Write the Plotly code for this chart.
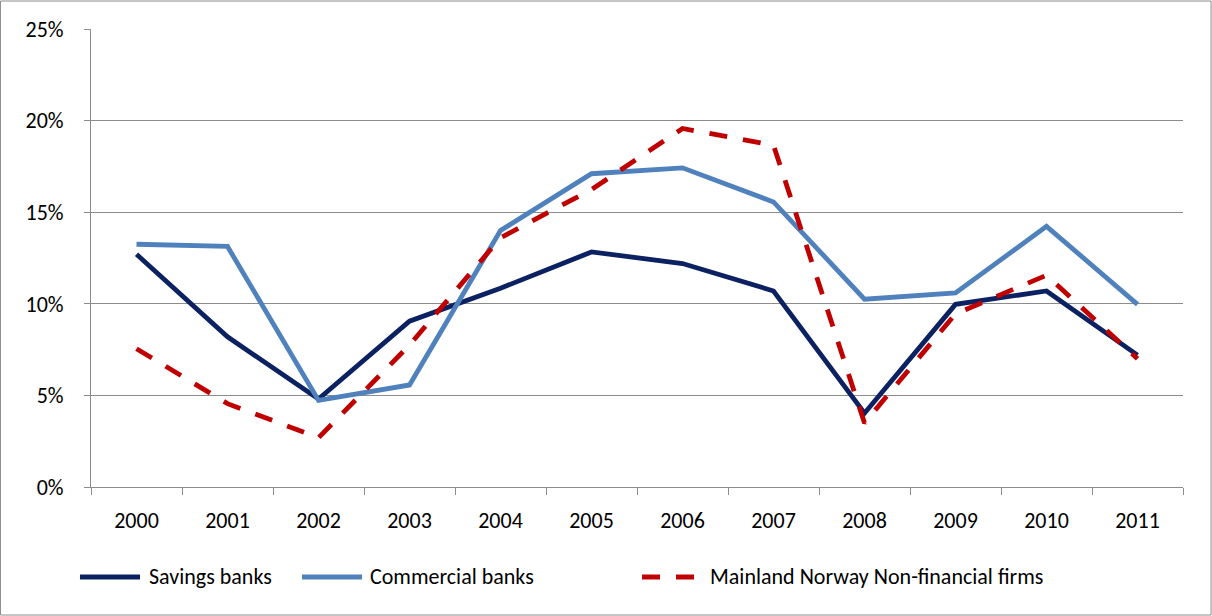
import plotly.graph_objects as go

# values (per cent)
years = ["2000", "2001", "2002", "2003", "2004", "2005",
         "2006", "2007", "2008", "2009", "2010", "2011"]
savings = [12.7, 8.2, 4.8, 9.05, 10.85, 12.83, 12.2, 10.7, 4.03, 9.97, 10.7, 7.2]
commercial = [13.25, 13.13, 4.73, 5.57, 14.0, 17.1, 17.42, 15.56, 10.25, 10.59, 14.23, 9.97]
mainland = [7.55, 4.55, 2.69, 7.75, 13.6, 16.24, 19.57, 18.66, 3.5, 9.45, 11.56, 7.0]

names = ["Savings banks", "Commercial banks", "Mainland Norway Non-financial firms"]
colors = ["#0b2161", "#4f81bd", "#c00000"]
dashes = ["solid", "solid", "18px,16px"]

FONT = "Calibri, Carlito, Lato, sans-serif"

fig = go.Figure()
for vals, name, col, dash in zip([savings, commercial, mainland], names, colors, dashes):
    fig.add_trace(go.Scatter(x=years, y=vals, name=name, mode="lines",
                             line=dict(color=col, width=4.8, dash=dash)))

# legend drawn below the plot like the Excel original (line sample + label)
leg_y = -0.1965
leg_pos = [(-0.0101, 0.0449, 0.0513), (0.1932, 0.2482, 0.2537), (0.5046, 0.5549, 0.565)]
shapes = [dict(type="rect", xref="paper", yref="paper", x0=-0.0829, x1=1.0257,
               y0=-0.2795, y1=1.0611, line=dict(color="#8c8c8c", width=1))]
annotations = []
for (x0, x1, xt), name, col, dash in zip(leg_pos, names, colors, dashes):
    shapes.append(dict(type="line", xref="paper", yref="paper", x0=x0, x1=x1,
                       y0=leg_y, y1=leg_y, line=dict(color=col, width=5, dash=dash)))
    annotations.append(dict(xref="paper", yref="paper", x=xt, y=leg_y, text=name,
                            showarrow=False, xanchor="left", yanchor="middle",
                            font=dict(size=22)))

fig.update_layout(
    width=1212, height=616,
    paper_bgcolor="white", plot_bgcolor="white",
    font=dict(family=FONT, size=22, color="black"),
    margin=dict(l=91, r=29, t=29, b=129, autoexpand=False),
    showlegend=False,
    shapes=shapes,
    annotations=annotations,
)
fig.update_xaxes(range=[-0.5, 11.5], showgrid=False, showline=True,
                 linecolor="#8c8c8c", linewidth=1,
                 ticks="outside", ticklen=7, tickcolor="#8c8c8c",
                 tickson="boundaries", ticklabelstandoff=14, automargin=False)
fig.update_yaxes(range=[0, 25], dtick=5, ticksuffix="%", showgrid=True,
                 gridcolor="#8c8c8c", gridwidth=1, showline=True,
                 linecolor="#8c8c8c", ticks="outside", ticklen=6,
                 tickcolor="#8c8c8c", zeroline=False, ticklabelstandoff=16,
                 automargin=False)

fig.write_html("out.html", config={"displayModeBar": False},
               post_script="document.body.style.margin='0';")
